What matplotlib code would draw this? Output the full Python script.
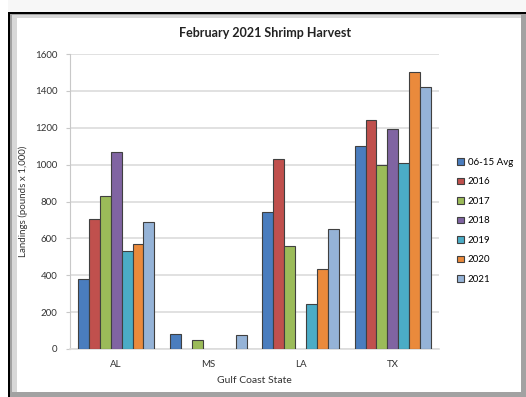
import numpy as np
import matplotlib
matplotlib.use("Agg")
import matplotlib.pyplot as plt
from matplotlib.patches import Rectangle

plt.rcParams['font.family'] = ['Lato', 'DejaVu Sans']

states = ['AL', 'MS', 'LA', 'TX']
series = ['06-15 Avg', '2016', '2017', '2018', '2019', '2020', '2021']
avg_06_15 = [380, 83, 745, 1103]
y2016 = [703, np.nan, 1030, 1240]
y2017 = [828, 47, 557, 998]
y2018 = [1067, np.nan, np.nan, 1191]
y2019 = [530, np.nan, 244, 1011]
y2020 = [571, np.nan, 434, 1501]
y2021 = [690, 76, 651, 1421]
values = [avg_06_15, y2016, y2017, y2018, y2019, y2020, y2021]
colors = ['#4A7DBE', '#C0504D', '#9BBB59', '#8064A2', '#4BACC6', '#EA8A3C', '#95B3D7']

W, H = 526, 397
fig = plt.figure(figsize=(W / 100, H / 100), dpi=100)
fig.patch.set_facecolor('#f7f7f7')


def px_rect(x0, y0, x1, y1, color):
    # rectangle given in picture pixels, origin top-left
    fig.patches.append(Rectangle((x0 / W, 1 - y1 / H), (x1 - x0) / W, (y1 - y0) / H,
                                 transform=fig.transFigure, facecolor=color,
                                 edgecolor='none', zorder=-10))

# frame around the chart (screenshot look)
px_rect(0, 0, 8, H, 'white')
px_rect(10, 14, W, H, '#a2a2a2')
px_rect(12, 15, 521, 392, '#d8d8d8')
px_rect(17, 18, 521, 392, 'white')
px_rect(8, 12, 10, H, 'black')
px_rect(8, 12, W, 14, 'black')

ax = fig.add_axes([70 / W, 1 - 349 / H, 369 / W, 295 / H])
ax.set_facecolor('none')

x = np.arange(len(states))
n = len(series)
bw = 0.83 / n
for i, (name, vals) in enumerate(zip(series, values)):
    ax.bar(x - 0.415 + bw * (i + 0.5), vals, width=bw, color=colors[i],
           edgecolor='#404040', linewidth=0.8, label=name, zorder=3)

ax.set_xlim(-0.5, len(states) - 0.5)
ax.set_ylim(0, 1600)
ax.set_yticks(range(0, 1601, 200))
ax.set_xticks(x)
ax.set_xticklabels(states)
ax.grid(axis='y', color='#dcdcdc', linewidth=1.2, zorder=0)
for s in ['top', 'right']:
    ax.spines[s].set_visible(False)
ax.spines['left'].set_color('#c8c8c8')
ax.spines['bottom'].set_color('#dcdcdc')
ax.spines['bottom'].set_linewidth(1.2)
ax.tick_params(axis='y', colors='#c8c8c8', labelcolor='#333333', labelsize=7, length=3, pad=6)
ax.tick_params(axis='x', length=0, labelcolor='#333333', labelsize=7, pad=8)

ax.set_ylabel('Landings (pounds x 1,000)', fontsize=7, color='#333333')
ax.yaxis.set_label_coords(-(70 - 28) / 369, 0.5)
ax.set_xlabel('Gulf Coast State', fontsize=7.5, color='#333333', labelpad=5)
fig.text(265 / W, 1 - 33 / H, 'February 2021 Shrimp Harvest', ha='center', va='center',
         fontsize=9, fontweight='bold', color='#222222')

ax.legend(loc='upper left', bbox_to_anchor=(453 / W, 1 - 154 / H),
          bbox_transform=fig.transFigure, frameon=False, fontsize=7,
          handlelength=0.7, handleheight=0.7, handletextpad=0.4,
          labelspacing=1.08, borderaxespad=0)

fig.savefig('out.png', dpi=100)
